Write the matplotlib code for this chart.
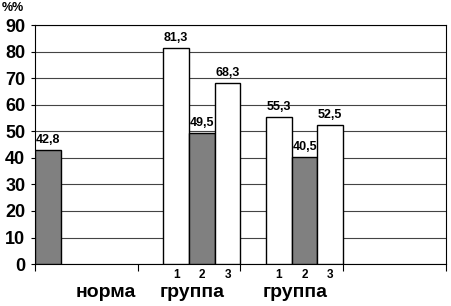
import matplotlib.pyplot as plt

plt.rcParams['font.family'] = ['Liberation Sans', 'DejaVu Sans']

# данные
norma_val = [42.8]
group1_vals = [81.3, 49.5, 68.3]
group2_vals = [55.3, 40.5, 52.5]
bar_colors = ['white', '#808080', 'white']
sub_labels = ['1', '2', '3']
cat_labels = ['норма', 'группа', 'группа']

fig = plt.figure(figsize=(4.51, 3.06), dpi=100)
ax = fig.add_axes([0.0776, 0.137, 0.911, 0.781])

w = 0.25
ax.bar(0, norma_val[0], width=w, align='edge', color='#808080', edgecolor='black', linewidth=1, zorder=3)
ax.text(w / 2, norma_val[0] + 1.5, '42,8', ha='center', va='bottom', fontsize=9, fontweight='bold')

for start, vals in [(1.25, group1_vals), (2.25, group2_vals)]:
    for i, v in enumerate(vals):
        x = start + i * w
        ax.bar(x, v, width=w, align='edge', color=bar_colors[i], edgecolor='black', linewidth=1, zorder=3)
        ax.text(x + w / 2, v + 1.5, ('%.1f' % v).replace('.', ','), ha='center', va='bottom',
                fontsize=9, fontweight='bold')
        ax.text(x + w / 2, -1.8, sub_labels[i], ha='center', va='top', fontsize=8.5, fontweight='bold')

ax.set_xlim(0, 4)
ax.set_ylim(0, 90)
ax.set_yticks(range(0, 91, 10))
ax.set_yticklabels([str(t) for t in range(0, 91, 10)], fontsize=13, fontweight='bold')
ax.set_xticks([0, 1, 2, 3, 4])
ax.set_xticklabels([])
ax.tick_params(axis='x', length=5, width=0.8, color='black')
ax.tick_params(axis='y', length=3, width=0.8, pad=4)
ax.yaxis.grid(True, color='#444444', linewidth=0.8, zorder=0)
for s in ['left', 'bottom', 'right', 'top']:
    ax.spines[s].set_linewidth(0.8)
    ax.spines[s].set_color('black')

for x, lab in zip([0.69, 1.53, 2.53], cat_labels):
    ax.text(x, -7.5, lab, ha='center', va='top', fontsize=14, fontweight='bold')

fig.text(0.003, 0.995, '%%', ha='left', va='top', fontsize=9, fontweight='bold')

fig.savefig('out.png', dpi=100)
